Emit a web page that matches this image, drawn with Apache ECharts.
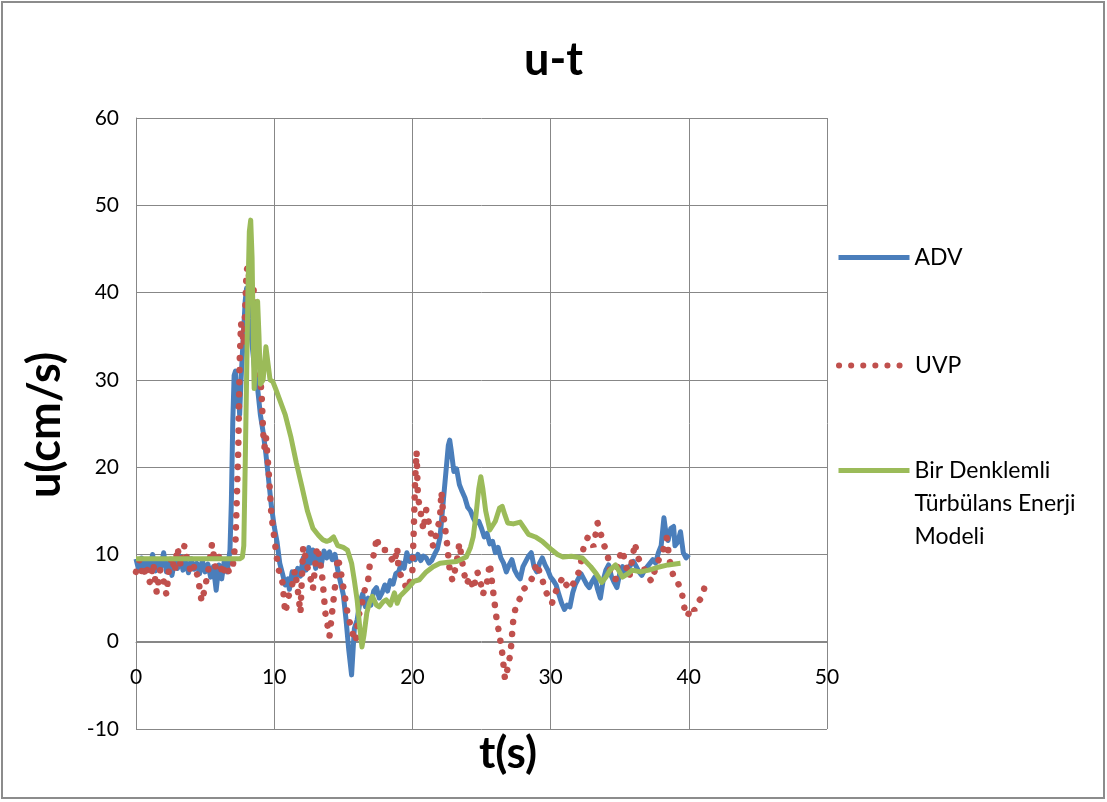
<!DOCTYPE html>
<html>
<head>
<meta charset="utf-8">
<script src="https://cdn.jsdelivr.net/npm/echarts/dist/echarts.min.js"></script>
<style>
  html, body { margin: 0; padding: 0; background: #ffffff; }
  #chart { width: 1107px; height: 802px; }
</style>
</head>
<body>
<div id="chart"></div>
<script>
// Velocity time series, [t (s), u (cm/s)]
const advSeries = [
  [0.0,9.5],[0.2,8.2],[0.4,9.6],[0.6,8.0],[0.8,9.2],[1.0,8.4],[1.2,10.0],[1.4,8.1],[1.6,9.4],[1.8,8.6],
  [2.0,10.2],[2.2,8.0],[2.4,9.0],[2.6,7.6],[2.8,9.3],[3.0,8.4],[3.2,9.8],[3.4,8.2],[3.6,9.1],[3.8,7.9],
  [4.0,9.5],[4.2,8.3],[4.4,9.0],[4.6,7.8],[4.8,9.3],[5.0,8.0],[5.2,8.9],[5.4,7.4],[5.6,8.6],[5.8,5.9],
  [6.0,8.8],[6.2,7.2],[6.4,9.4],[6.6,8.0],[6.8,10.5],[6.9,16],[7.0,25],[7.1,30.5],[7.2,31],[7.3,27],
  [7.4,29],[7.5,26],[7.6,30],[7.7,33],[7.8,36],[7.9,39],[8.0,40.5],[8.1,39],[8.2,37],[8.4,34],
  [8.6,31],[8.8,29],[9.0,26],[9.2,24],[9.4,21.5],[9.6,18.5],[9.8,15.5],[10.0,13.2],[10.2,11.5],[10.4,9.0],
  [10.6,7.8],[10.8,6.5],[11.0,7.2],[11.1,6.0],[11.3,8.0],[11.5,7.0],[11.7,8.4],[11.9,7.5],[12.1,9.6],[12.3,8.2],
  [12.5,10.8],[12.6,9.0],[12.8,10.5],[13.0,8.4],[13.2,9.8],[13.4,8.8],[13.6,10.4],[13.8,9.6],[14.0,10.3],[14.2,9.4],
  [14.4,10.0],[14.6,8.2],[14.8,6.8],[15.0,5.4],[15.2,2.5],[15.4,-1.0],[15.6,-3.8],[15.8,1.5],[16.0,2.5],[16.2,4.5],
  [16.4,5.5],[16.6,4.0],[16.8,5.0],[17.0,4.2],[17.2,5.8],[17.4,6.2],[17.6,5.0],[17.8,5.6],[18.0,6.5],[18.2,5.8],
  [18.4,7.0],[18.6,6.6],[18.8,7.8],[19.0,8.0],[19.2,9.0],[19.4,8.4],[19.6,10.2],[19.8,9.2],[20.0,9.8],[20.2,9.4],
  [20.4,10.0],[20.6,9.3],[20.8,9.8],[21.0,9.6],[21.2,9.0],[21.4,9.3],[21.6,10.0],[21.8,10.6],[22.0,12.0],[22.2,15.5],
  [22.4,19.0],[22.6,22.5],[22.7,23.1],[22.8,22.0],[23.0,19.5],[23.2,19.8],[23.4,18.0],[23.6,17.2],[23.8,16.5],[24.0,15.4],
  [24.2,15.0],[24.4,14.2],[24.6,13.6],[24.8,13.8],[25.0,13.0],[25.2,12.0],[25.4,12.4],[25.6,11.2],[25.8,11.5],[26.0,10.2],
  [26.2,10.8],[26.4,9.6],[26.6,9.0],[26.8,8.0],[27.0,8.8],[27.2,9.4],[27.4,8.2],[27.6,7.6],[27.8,7.2],[28.0,8.6],
  [28.2,9.2],[28.4,9.8],[28.6,10.2],[28.8,8.6],[29.0,8.0],[29.2,9.0],[29.4,9.6],[29.6,8.8],[29.8,8.2],[30.0,7.4],
  [30.2,7.0],[30.4,6.5],[30.6,5.4],[30.8,4.4],[31.0,3.7],[31.2,4.2],[31.4,4.0],[31.6,5.6],[31.8,6.6],[32.0,7.2],
  [32.2,7.8],[32.4,7.2],[32.6,6.6],[32.8,6.2],[33.0,6.9],[33.2,7.4],[33.4,6.0],[33.6,5.0],[33.8,7.0],[34.0,8.2],
  [34.2,8.8],[34.4,7.5],[34.6,6.8],[34.8,6.2],[35.0,7.8],[35.2,8.6],[35.4,7.8],[35.6,8.4],[35.8,8.8],[36.0,9.2],
  [36.2,8.6],[36.4,8.0],[36.6,7.6],[36.8,8.2],[37.0,8.6],[37.2,9.0],[37.4,9.4],[37.6,9.0],[37.8,10.2],[38.0,11.0],
  [38.2,14.2],[38.3,13.0],[38.5,11.6],[38.7,13.0],[38.9,13.2],[39.0,11.0],[39.2,11.4],[39.4,12.6],[39.6,10.2],[39.8,9.6],
  [40.0,10.0]
];

const uvpSeries = [
  [0.0,8.0],[0.25,9.4],[0.5,7.4],[0.75,8.8],[1.0,6.8],[1.25,9.0],[1.5,5.6],[1.75,8.2],[2.0,7.0],[2.2,5.4],
  [2.4,8.6],[2.6,9.8],[2.8,8.0],[3.0,10.8],[3.25,8.6],[3.5,11.0],[3.75,9.2],[4.0,7.8],[4.25,8.8],[4.5,7.2],
  [4.75,4.6],[5.0,6.2],[5.25,8.4],[5.5,11.2],[5.75,8.6],[6.0,9.8],[6.25,7.6],[6.5,8.8],[6.75,7.9],[7.0,8.6],
  [7.2,11.5],[7.4,22],[7.5,32],[7.6,36.5],[7.8,34],[7.9,38],[8.0,42.5],[8.1,43],[8.3,40],[8.5,40.5],
  [8.7,36],[8.9,32],[9.1,28],[9.2,24],[9.3,22.3],[9.4,23.5],[9.6,19.5],[9.8,14.5],[10.0,12.0],[10.2,9.5],
  [10.4,7.6],[10.6,6.8],[10.8,3.3],[11.0,4.8],[11.1,5.6],[11.3,6.5],[11.5,8.2],[11.7,6.0],[11.9,3.3],[12.1,10.9],
  [12.4,8.6],[12.7,6.8],[12.8,6.0],[13.1,10.9],[13.3,9.4],[13.5,7.1],[13.7,3.3],[14.0,0.6],[14.2,3.5],[14.4,6.3],
  [14.6,9.7],[14.8,8.2],[15.0,6.3],[15.3,3.3],[15.5,2.0],[15.7,0.8],[15.9,0.0],[16.1,2.9],[16.3,4.0],[16.6,6.3],
  [16.8,7.1],[16.9,8.6],[17.1,9.4],[17.3,10.5],[17.4,12.0],[17.6,10.8],[17.8,10.5],[18.1,10.5],[18.4,9.7],[18.7,9.0],
  [18.9,10.8],[19.0,8.2],[19.3,7.1],[19.5,6.4],[19.7,6.0],[20.0,8.2],[20.1,12.8],[20.2,18.6],[20.3,21.8],[20.4,16.6],
  [20.6,14.8],[20.8,12.8],[21.0,15.1],[21.3,12.8],[21.5,10.9],[21.8,12.8],[22.0,14.3],[22.1,17.2],[22.2,15.1],[22.5,11.3],
  [22.7,8.2],[22.9,7.0],[23.2,9.0],[23.4,11.3],[23.7,8.2],[23.9,6.6],[24.2,7.4],[24.4,6.0],[24.7,8.0],[24.9,7.1],
  [25.1,5.4],[25.4,6.8],[25.6,9.0],[25.8,6.3],[26.1,2.5],[26.3,0.8],[26.5,-1.3],[26.7,-4.3],[26.9,-3.0],[27.1,-1.3],
  [27.3,2.5],[27.5,4.2],[27.8,5.0],[28.0,6.0],[28.3,6.3],[28.5,6.8],[28.7,7.4],[29.0,9.0],[29.2,8.0],[29.4,7.1],
  [29.7,5.6],[30.1,4.4],[30.3,5.4],[30.5,6.3],[30.9,7.4],[31.1,6.6],[31.4,6.0],[31.8,7.1],[32.1,8.2],[32.4,10.9],
  [32.7,12.0],[33.1,10.9],[33.4,13.6],[33.6,12.6],[33.8,11.3],[34.1,10.2],[34.3,8.2],[34.7,7.1],[34.9,9.4],[35.2,10.5],
  [35.4,9.0],[35.7,7.4],[36.1,11.3],[36.3,9.7],[36.7,8.6],[37.0,7.6],[37.3,6.9],[37.7,9.0],[38.1,10.2],[38.4,11.9],
  [38.6,9.4],[38.9,7.4],[39.2,6.8],[39.5,5.6],[39.7,3.7],[39.9,2.9],[40.2,4.0],[40.4,3.6],[40.6,4.4],[40.8,4.8],
  [41.0,5.2],[41.2,6.8]
];

const modelSeries = [
  [0.0,9.5],[7.5,9.5],[7.7,9.7],[7.8,11],[7.9,20],[8.0,30],[8.1,40],[8.2,47],[8.3,48.3],[8.4,44],
  [8.5,33],[8.55,29],[8.65,33],[8.8,39],[8.9,35],[9.0,29.5],[9.2,30],[9.4,33.8],[9.5,33.6],[9.7,30],
  [9.9,29.8],[10.1,29.0],[10.4,27.7],[10.8,26],[11.2,23.5],[11.6,20.5],[12.0,17.8],[12.4,15.0],[12.8,13.0],[13.2,12.2],
  [13.5,11.7],[13.8,11.5],[14.0,11.6],[14.3,12.0],[14.6,11.0],[15.0,10.8],[15.3,10.5],[15.6,9.0],[15.8,7.0],[16.0,4.8],
  [16.2,1.5],[16.35,-0.6],[16.5,0.8],[16.7,3.3],[16.9,4.5],[17.1,5.2],[17.4,4.2],[17.6,4.0],[17.9,4.6],[18.1,4.8],
  [18.4,4.2],[18.7,5.6],[18.9,4.4],[19.1,5.2],[19.6,6.0],[20.1,6.9],[20.5,7.1],[21.0,8.0],[21.5,8.6],[22.0,9.0],
  [22.6,9.1],[23.2,9.2],[23.9,9.7],[24.2,10.8],[24.4,12.0],[24.6,14.5],[24.8,17.5],[24.95,18.9],[25.1,17.5],[25.3,15.0],
  [25.6,12.8],[26.0,13.8],[26.3,15.3],[26.5,15.5],[26.7,14.5],[26.9,13.6],[27.3,13.5],[27.8,13.7],[28.1,13.0],[28.4,12.3],
  [28.9,12.0],[29.4,11.5],[30.1,10.5],[30.5,10.0],[30.9,9.7],[31.5,9.8],[32.3,9.6],[32.9,8.6],[33.3,7.8],[33.7,6.8],
  [34.0,7.4],[34.3,8.2],[34.7,8.8],[35.2,7.4],[35.6,7.8],[35.9,8.2],[36.5,8.0],[37.1,8.2],[37.7,8.5],[38.5,8.8],
  [39.4,9.0]
];

const seriesNames = ['ADV', 'UVP', 'Bir Denklemli\nTürbülans Enerji\nModeli'];
const seriesColors = ['#4A7EBB', '#C0504D', '#9BBB59'];

const chartTitle = 'u-t';
const xTitle = 't(s)';
const yTitle = 'u(cm/s)';

const FONT = 'Lato, "Open Sans", sans-serif';
const GRID_COLOR = '#878787';

const chart = echarts.init(document.getElementById('chart'), null, { renderer: 'canvas' });

const legendText = { color: '#000', fontSize: 23, fontFamily: FONT, lineHeight: 33 };
// legend shows only the line, no marker
const legendBase = {
  orient: 'vertical', left: 831, itemWidth: 71, itemHeight: 14,
  itemStyle: { opacity: 0 }, textStyle: legendText
};

chart.setOption({
  backgroundColor: '#ffffff',
  animation: false,
  title: {
    text: chartTitle,
    left: 'center',
    top: 33,
    textStyle: { fontSize: 45, fontWeight: 'bold', fontFamily: FONT, color: '#000' }
  },
  grid: { left: 136, right: 280, top: 118, bottom: 73, containLabel: false },
  xAxis: {
    type: 'value',
    min: 0, max: 50, interval: 10,
    position: 'bottom',
    offset: -87,  // horizontal axis sits on u = 0
    axisLine: { onZero: false, lineStyle: { color: GRID_COLOR, width: 1 } },
    axisTick: { show: false },
    axisLabel: { margin: 25, fontSize: 21, fontFamily: FONT, color: '#000' },
    splitLine: { show: true, lineStyle: { color: GRID_COLOR, width: 1 } }
  },
  yAxis: {
    type: 'value',
    min: -10, max: 60, interval: 10,
    axisLine: { show: true, onZero: false, lineStyle: { color: GRID_COLOR, width: 1 } },
    axisTick: { show: false },
    axisLabel: { margin: 17, fontSize: 21, fontFamily: FONT, color: '#000' },
    splitLine: { show: true, lineStyle: { color: GRID_COLOR, width: 1 } }
  },
  legend: [
    Object.assign({}, legendBase, {
      data: [seriesNames[0]], top: 236,
      lineStyle: { width: 5 }
    }),
    Object.assign({}, legendBase, {
      data: [seriesNames[1]], top: 344,
      lineStyle: { width: 6 }
    }),
    Object.assign({}, legendBase, {
      data: [seriesNames[2]], top: 383,
      lineStyle: { width: 5 },
      // two leading blank lines put the first text line level with the marker
      formatter: function (name) { return '\n\n' + name; }
    })
  ],
  graphic: [
    {
      type: 'rect', silent: true, z: -10,
      shape: { x: 2, y: 2, width: 1102, height: 796 },
      style: { fill: 'none', stroke: '#8c8c8c', lineWidth: 2 }
    },
    {
      type: 'text', x: 45, y: 425, rotation: Math.PI / 2,
      style: { text: yTitle, font: 'bold 45px ' + FONT, fill: '#000', align: 'center', verticalAlign: 'middle' }
    },
    {
      type: 'text', x: 508, y: 754,
      style: { text: xTitle, font: 'bold 44px ' + FONT, fill: '#000', align: 'center', verticalAlign: 'middle' }
    }
  ],
  series: [
    {
      name: seriesNames[0], type: 'line', data: advSeries,
      showSymbol: false, symbol: 'none', z: 2,
      lineStyle: { color: seriesColors[0], width: 5, join: 'round' },
      itemStyle: { color: seriesColors[0] }
    },
    {
      name: seriesNames[1], type: 'line', data: uvpSeries,
      showSymbol: false, symbol: 'none', z: 3,
      lineStyle: { color: seriesColors[1], width: 6.5, type: [0.1, 12], cap: 'round' },
      itemStyle: { color: seriesColors[1] }
    },
    {
      name: seriesNames[2], type: 'line', data: modelSeries,
      showSymbol: false, symbol: 'none', z: 4,
      lineStyle: { color: seriesColors[2], width: 5, join: 'round' },
      itemStyle: { color: seriesColors[2] }
    }
  ]
});
</script>
</body>
</html>
